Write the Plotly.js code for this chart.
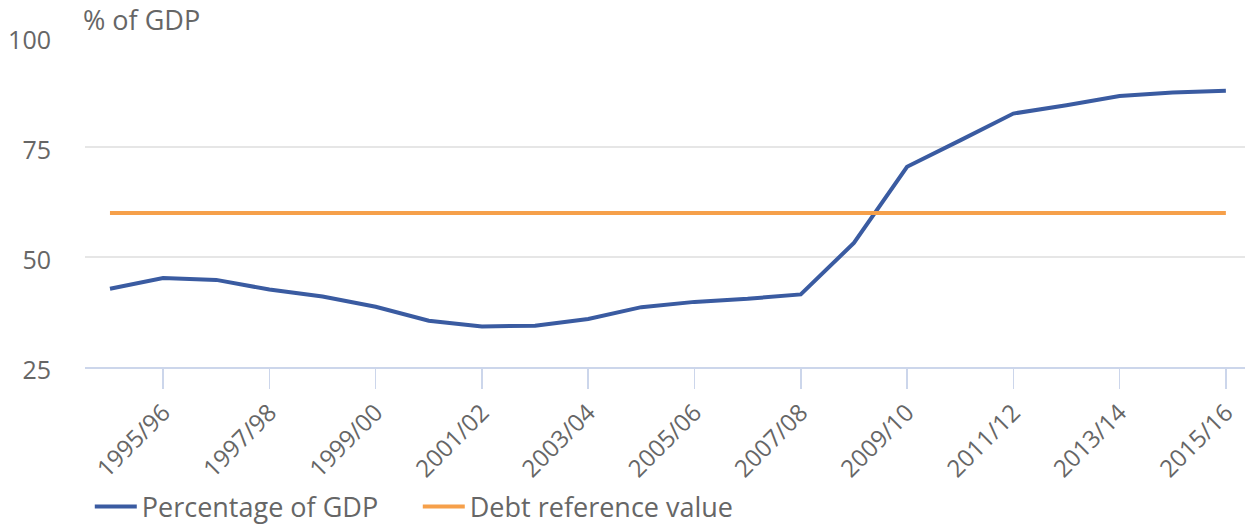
<!DOCTYPE html>
<html>
<head>
<meta charset="utf-8">
<script src="https://cdn.plot.ly/plotly-3.0.1.min.js"></script>
<style>
html,body{margin:0;padding:0;background:#fff;}
#chart{width:1247px;height:526px;}
</style>
</head>
<body>
<div id="chart"></div>
<script>
var years = ["1994/95","1995/96","1996/97","1997/98","1998/99","1999/00","2000/01","2001/02","2002/03","2003/04","2004/05","2005/06","2006/07","2007/08","2008/09","2009/10","2010/11","2011/12","2012/13","2013/14","2014/15","2015/16"];
var debtPct = [42.8,45.2,44.8,42.6,41.0,38.7,35.5,34.2,34.4,35.9,38.6,39.8,40.5,41.5,53.2,70.5,76.5,82.6,84.5,86.6,87.4,87.8];
var referenceValue = [60,60,60,60,60,60,60,60,60,60,60,60,60,60,60,60,60,60,60,60,60,60];
var tickLabels = ["1995/96","1997/98","1999/00","2001/02","2003/04","2005/06","2007/08","2009/10","2011/12","2013/14","2015/16"];
var yTicks = [25,50,75,100];

var font = "'Open Sans', sans-serif";
var txt = "#666666";

var traces = [
  {x: years, y: debtPct, type: "scatter", mode: "lines", name: "Percentage of GDP",
   line: {color: "#3a5ba1", width: 4}, hoverinfo: "x+y"},
  {x: years, y: referenceValue, type: "scatter", mode: "lines", name: "Debt reference value",
   line: {color: "#f6a04a", width: 4}, hoverinfo: "x+y"}
];

var layout = {
  width: 1247, height: 526,
  margin: {l: 85, r: 2, t: 37, b: 159},
  paper_bgcolor: "#fff", plot_bgcolor: "#fff",
  font: {family: font, color: txt},
  showlegend: true,
  xaxis: {
    type: "category",
    automargin: false,
    range: [-0.47, 21.36],
    tickmode: "array", tickvals: tickLabels, ticktext: tickLabels,
    tickangle: -45,
    ticks: "outside", ticklen: 20, tickwidth: 1.5, tickcolor: "#ccd6eb",
    showline: true, linecolor: "#ccd6eb", linewidth: 2,
    showgrid: false, zeroline: false,
    tickfont: {family: font, size: 24, color: txt}
  },
  yaxis: {
    automargin: false,
    range: [25, 100],
    tickmode: "array", tickvals: yTicks,
    showgrid: true, gridcolor: "#e6e6e6", gridwidth: 1.5,
    zeroline: false, showline: false, ticks: "",
    ticklabelstandoff: 33,
    ticklabelshift: 3,
    tickfont: {family: font, size: 25, color: txt}
  },
  legend: {
    orientation: "h", xref: "container", yref: "container",
    x: 0.072, xanchor: "left", y: 0.036, yanchor: "middle",
    font: {family: font, size: 27, color: txt},
    itemwidth: 42, entrywidth: 271, entrywidthmode: "pixels",
    bgcolor: "rgba(0,0,0,0)"
  },
  annotations: [{
    text: "% of GDP", xref: "paper", yref: "paper", x: 0, y: 1, xanchor: "left", yanchor: "bottom",
    xshift: -4, yshift: -3, showarrow: false, font: {family: font, size: 27, color: txt}
  }]
};

Plotly.newPlot("chart", traces, layout, {displayModeBar: false, staticPlot: true});
</script>
</body>
</html>
